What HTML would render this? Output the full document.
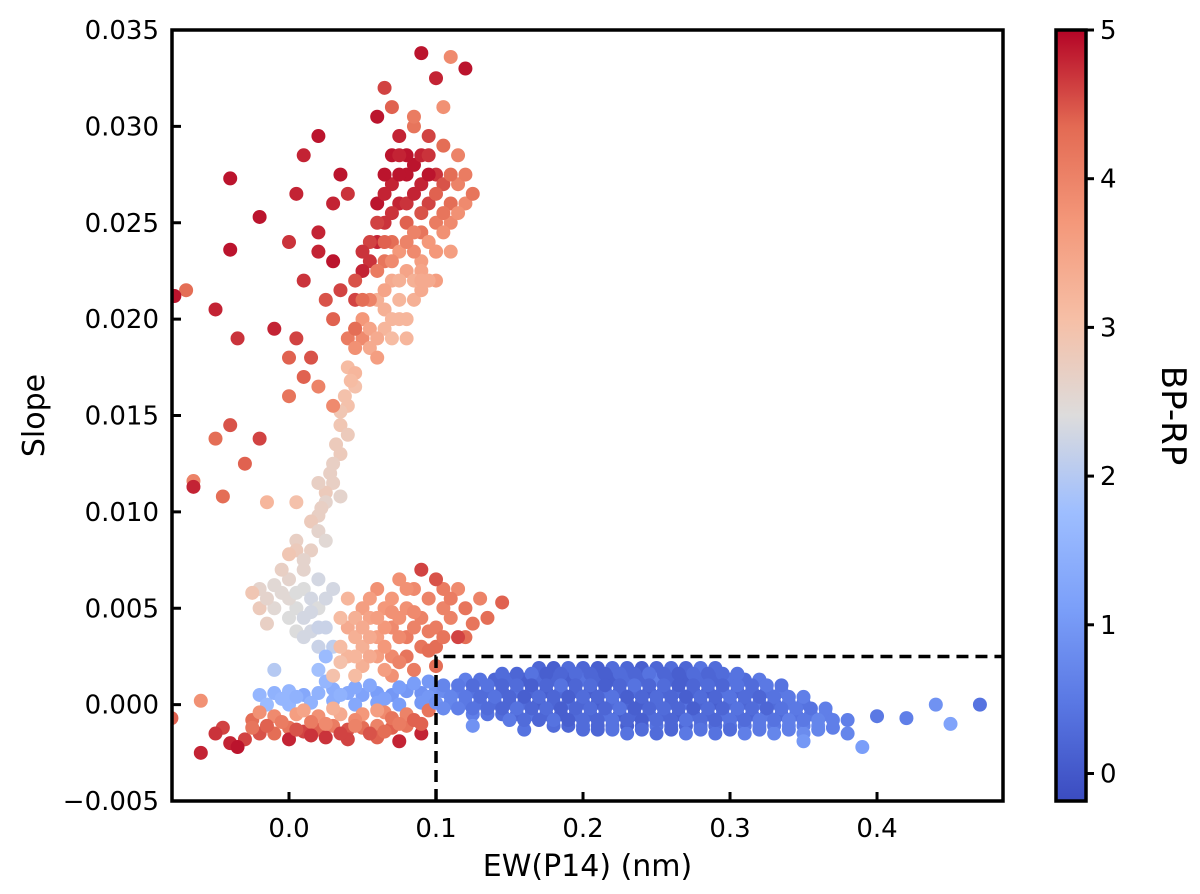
<!DOCTYPE html>
<html><head><meta charset="utf-8"><style>
body{margin:0;background:#fff;}
svg text{font-family:"DejaVu Sans","Liberation Sans",sans-serif;fill:#000;}
</style></head><body>
<svg id="chart" width="1200" height="889" viewBox="0 0 1200 889" xmlns="http://www.w3.org/2000/svg">
<defs>
<linearGradient id="cbg" x1="0" y1="1" x2="0" y2="0">
<stop offset="0" stop-color="#3b4cc0"/><stop offset="0.125" stop-color="#5977e3"/><stop offset="0.25" stop-color="#7b9ff9"/><stop offset="0.375" stop-color="#9ebeff"/><stop offset="0.5" stop-color="#dddcdc"/><stop offset="0.625" stop-color="#f6bfa6"/><stop offset="0.75" stop-color="#f4987a"/><stop offset="0.875" stop-color="#e36a53"/><stop offset="1" stop-color="#b40426"/>
</linearGradient>
<clipPath id="plotclip"><rect x="172" y="30" width="831" height="771"/></clipPath>
</defs>
<g id="points" clip-path="url(#plotclip)"></g>
<g id="axes"></g>
</svg>
<script>
const xTicks=[0.0,0.1,0.2,0.3,0.4];
const xTickLabels=["0.0","0.1","0.2","0.3","0.4"];
const yTicks=[-0.005,0,0.005,0.01,0.015,0.02,0.025,0.03,0.035];
const yTickLabels=["\u22120.005","0.000","0.005","0.010","0.015","0.020","0.025","0.030","0.035"];
const cTicks=[0,1,2,3,4,5];
const boxX=0.1, boxY=0.0025;
const lowerRed=[[-0.06,-0.0025,4.8],[-0.04,-0.002,4.8],[-0.03,-0.0018,4.6],[-0.02,-0.0015,4.5],[-0.01,-0.0015,4.3],[0.0,-0.0012,4.2],[0.01,-0.0014,4.6],[0.02,-0.0013,4.4],[0.03,-0.0011,4.1],[0.04,-0.0013,4.5],[0.05,-0.0012,4.3],[0.06,-0.0011,4.0],[0.07,-0.0012,4.4],[0.08,-0.0011,4.2],[0.09,-0.0015,4.8],[-0.035,-0.0022,4.9],[-0.025,-0.0008,4.3],[-0.01,-0.0006,3.9],[0.005,-0.0005,3.6],[0.02,-0.0006,3.8],[0.035,-0.0005,3.4],[0.05,-0.0005,3.7],[0.065,-0.0004,3.9],[0.08,-0.0005,4.0],[0.095,-0.0003,4.2],[-0.08,-0.0007,4.4],[-0.045,-0.0012,4.6],[0.0,-0.0018,4.8],[0.04,-0.0018,4.6],[0.06,-0.0017,4.4],[0.015,-0.0009,4.1],[0.045,-0.0008,3.9],[0.07,-0.0007,4.2],[-0.05,-0.0015,4.7],[0.085,-0.0008,4.4],[-0.025,-0.0012,4.2],[0.025,-0.0017,4.7],[0.075,-0.0019,4.8],[-0.06,0.0002,3.8],[-0.015,-0.0011,4.4],[-0.005,-0.0009,4.1],[0.005,-0.0013,4.5],[0.015,-0.0016,4.7],[0.035,-0.0015,4.6],[0.055,-0.0015,4.5],[0.065,-0.0014,4.3],[0.075,-0.001,4.1],[0.045,-0.0011,4.0],[0.025,-0.001,3.9],[0.01,-0.0003,3.5],[0.03,-0.0002,3.3],[0.06,-0.0003,3.6],[0.09,-0.001,4.4],[-0.02,-0.0004,3.8]];
const blueBand=[[-0.02,0.0005,1.6],[-0.01,0.0006,1.5],[0.0,0.0007,1.6],[0.01,0.0005,1.3],[0.02,0.0006,1.5],[0.03,0.0008,1.4],[0.04,0.0006,1.3],[0.05,0.0005,1.2],[0.06,0.0006,1.1],[0.07,0.0005,1.0],[0.08,0.0007,1.0],[0.09,0.0006,0.9],[0.1,0.0008,0.9],[-0.015,0.0,1.7],[0.0,0.0,1.6],[0.015,0.0001,1.5],[0.03,0.0002,1.4],[0.045,0.0,1.3],[0.06,0.0001,1.2],[0.075,0.0,1.1],[0.09,0.0001,1.0],[0.025,0.0012,1.6],[0.055,0.001,1.3],[0.085,0.0011,1.1],[0.035,0.0005,1.5],[0.065,0.0003,1.2],[0.095,0.0004,1.0],[-0.005,0.0003,1.6],[0.005,0.0004,1.5],[0.045,0.0009,1.3],[0.075,0.0009,1.1],[0.095,0.0012,1.0]];
const midGray=[[-0.02,0.006,2.6],[-0.01,0.0062,2.5],[0.0,0.0065,2.6],[0.01,0.006,2.4],[0.015,0.0055,2.3],[0.005,0.005,2.4],[-0.01,0.005,2.5],[-0.02,0.005,2.8],[0.0,0.0045,2.4],[0.01,0.0045,2.3],[0.02,0.005,2.4],[0.02,0.0065,2.3],[0.03,0.006,2.3],[0.025,0.004,2.2],[0.015,0.0038,2.3],[0.005,0.0038,2.4],[0.02,0.003,2.2],[0.03,0.003,2.1],[-0.015,0.0042,2.7],[0.0,0.0055,2.5],[0.01,0.007,2.6],[-0.005,0.007,2.7],[-0.01,0.0018,2.0],[0.02,0.0018,1.8],[0.025,0.0025,1.7],[-0.025,0.0058,2.9],[0.005,0.0085,2.7],[-0.005,0.0058,2.5],[0.005,0.0058,2.4],[0.015,0.0048,2.3],[0.025,0.0055,2.3],[-0.015,0.0055,2.6],[0.01,0.0035,2.3],[0.02,0.004,2.2]];
const salmon=[[0.04,0.004,3.4],[0.05,0.005,3.6],[0.06,0.006,3.8],[0.07,0.0055,3.7],[0.08,0.005,3.8],[0.09,0.0045,4.0],[0.1,0.004,4.1],[0.11,0.0045,4.0],[0.12,0.005,4.2],[0.05,0.003,3.3],[0.06,0.0035,3.6],[0.07,0.004,3.9],[0.08,0.0035,4.1],[0.09,0.003,4.2],[0.1,0.003,4.3],[0.04,0.0025,3.2],[0.05,0.002,3.3],[0.06,0.0025,3.6],[0.07,0.0025,3.9],[0.08,0.0025,4.2],[0.045,0.0035,3.3],[0.055,0.0045,3.5],[0.065,0.005,3.7],[0.075,0.0065,3.8],[0.085,0.006,3.9],[0.095,0.0055,4.0],[0.105,0.006,4.1],[0.115,0.006,3.9],[0.13,0.0055,4.0],[0.12,0.0035,4.3],[0.035,0.0045,3.1],[0.035,0.003,3.1],[0.04,0.0055,3.2],[0.09,0.007,4.6],[0.1,0.0065,4.5],[0.135,0.0045,4.3],[0.105,0.005,4.0],[0.145,0.0053,4.4],[0.075,0.0045,3.8],[0.085,0.004,4.0],[0.065,0.003,3.7],[0.03,0.0015,3.0],[0.07,0.0015,3.8],[0.1,0.002,4.3],[0.115,0.0035,4.6],[0.085,0.0018,4.1],[0.055,0.0035,3.4],[0.095,0.0038,4.1],[0.045,0.0045,3.3],[0.055,0.0055,3.6],[0.065,0.004,3.7],[0.075,0.0035,3.9],[0.085,0.0048,3.9],[0.095,0.0028,4.3],[0.105,0.0035,4.2],[0.045,0.0025,3.2],[0.055,0.0025,3.4],[0.075,0.0022,4.0],[0.065,0.0018,3.6],[0.035,0.0022,3.0],[0.045,0.0015,3.1],[0.11,0.0055,4.1],[0.125,0.0042,4.2],[0.08,0.006,3.8],[0.07,0.0048,3.8],[0.06,0.0045,3.6],[0.05,0.004,3.4]];
const stream=[[0.04,0.0175,3.1],[0.045,0.0165,3.0],[0.04,0.0155,3.0],[0.035,0.0145,2.9],[0.04,0.014,2.8],[0.035,0.013,2.8],[0.03,0.0125,2.7],[0.03,0.0115,2.7],[0.025,0.011,2.8],[0.02,0.0115,2.7],[0.025,0.0105,2.6],[0.02,0.0098,2.7],[0.015,0.0095,2.8],[0.02,0.009,2.6],[0.025,0.0085,2.5],[0.015,0.008,2.7],[0.005,0.008,2.8],[0.0,0.0078,2.9],[0.01,0.0075,2.6],[0.035,0.0108,2.6],[0.045,0.0172,3.2],[0.038,0.016,3.0],[0.032,0.0135,2.8],[0.028,0.012,2.7],[0.022,0.0102,2.7],[0.035,0.0152,2.9],[0.042,0.0168,3.1]];
const upper=[[0.07,0.027,4.8],[0.08,0.0275,4.9],[0.09,0.027,4.8],[0.1,0.0275,4.7],[0.085,0.028,4.9],[0.075,0.026,4.8],[0.065,0.025,4.7],[0.06,0.024,4.8],[0.095,0.026,4.6],[0.105,0.027,4.5],[0.11,0.026,4.3],[0.07,0.0285,4.9],[0.09,0.0285,4.8],[0.055,0.023,4.7],[0.05,0.0225,4.8],[0.045,0.021,4.6],[0.06,0.026,4.9],[0.08,0.026,4.7],[0.1,0.025,4.1],[0.11,0.025,3.9],[0.115,0.027,4.0],[0.1,0.0235,3.8],[0.09,0.0245,4.2],[0.08,0.025,4.4],[0.07,0.024,4.3],[0.065,0.023,4.2],[0.12,0.026,3.9],[0.105,0.029,4.3],[0.095,0.0295,4.6],[0.085,0.03,4.2],[0.115,0.0285,4.0],[0.04,0.019,4.1],[0.05,0.019,3.9],[0.045,0.0185,3.8],[0.06,0.021,3.3],[0.07,0.022,3.4],[0.08,0.0225,3.5],[0.09,0.023,3.6],[0.075,0.02,3.2],[0.085,0.021,3.3],[0.065,0.0195,3.2],[0.055,0.0185,3.4],[0.06,0.018,3.6],[0.07,0.019,3.1],[0.08,0.019,3.2],[0.09,0.0215,3.4],[0.1,0.022,3.6],[0.095,0.024,3.7],[0.05,0.02,3.7],[0.11,0.0235,3.6],[0.105,0.0245,3.8],[0.075,0.0235,3.7],[0.085,0.0235,3.9],[0.065,0.0215,3.5],[0.055,0.021,4.0],[0.115,0.0255,3.8],
[0.075,0.0275,4.9],[0.085,0.0265,4.8],[0.095,0.0275,4.9],[0.065,0.0265,4.8],[0.07,0.0255,4.7],[0.08,0.0285,4.9],[0.09,0.0255,4.5],[0.1,0.0265,4.4],[0.105,0.0255,4.2],[0.11,0.0275,4.3],[0.06,0.025,4.6],[0.055,0.024,4.6],[0.05,0.0235,4.7],[0.045,0.022,4.5],[0.05,0.021,4.3],[0.06,0.0225,4.1],[0.07,0.023,3.9],[0.08,0.024,4.0],[0.09,0.0225,3.5],[0.1,0.0235,3.7],[0.095,0.022,3.4],[0.085,0.022,3.3],[0.075,0.021,3.2],[0.065,0.0205,3.3],[0.055,0.0195,3.5],[0.045,0.0195,3.9],[0.06,0.019,3.4],[0.07,0.02,3.2],[0.08,0.02,3.2],[0.09,0.022,3.4],[0.075,0.022,3.3],[0.085,0.0245,4.0],[0.065,0.024,4.4],[0.12,0.0275,4.1],[0.075,0.0285,4.8],[0.065,0.0275,4.9],[0.095,0.0285,4.7]];
const scattered=[[0.09,0.0338,4.9],[0.11,0.0336,3.9],[0.12,0.033,4.9],[0.1,0.0325,4.8],[0.065,0.032,4.6],[0.07,0.031,4.4],[0.06,0.0305,4.9],[0.075,0.0295,4.8],[0.02,0.0295,4.9],[0.01,0.0285,4.8],[0.035,0.0275,4.9],[0.04,0.0265,4.7],[0.03,0.026,4.8],[-0.04,0.0273,4.9],[-0.02,0.0253,4.9],[0.005,0.0265,4.8],[0.0,0.024,4.7],[0.02,0.0245,4.8],[-0.04,0.0236,4.9],[-0.05,0.0205,4.8],[-0.07,0.0215,4.3],[-0.078,0.0212,4.9],[0.01,0.022,4.7],[0.025,0.021,4.5],[0.03,0.02,4.4],[-0.01,0.0195,4.8],[0.005,0.019,4.6],[0.015,0.018,4.5],[0.0,0.018,4.4],[-0.035,0.019,4.7],[0.02,0.0235,4.8],[0.03,0.023,4.9],[0.125,0.0265,4.2],[0.105,0.031,3.8],[0.085,0.0305,4.1],[-0.04,0.0145,4.5],[-0.05,0.0138,4.3],[-0.02,0.0138,4.6],[-0.03,0.0125,4.4],[-0.065,0.0116,4.0],[-0.065,0.0113,4.8],[-0.045,0.0108,4.3],[0.0,0.016,4.2],[0.01,0.017,4.4],[0.02,0.0165,4.0],[0.03,0.0155,3.9],[-0.015,0.0105,3.2],[0.005,0.0105,3.0],[0.045,0.0195,4.3],[0.035,0.0215,4.6]];
const blueBlob=[
[0.17,0.0019,0.2],[0.18,0.0019,0.1],[0.19,0.0019,0.3],[0.2,0.0019,0.2],[0.21,0.0019,0.1],[0.22,0.0019,0.3],[0.23,0.0019,0.2],[0.24,0.0019,0.1],[0.25,0.0019,0.2],[0.26,0.0019,0.3],[0.27,0.0019,0.2],[0.28,0.0019,0.4],[0.29,0.0019,0.3],
[0.12,0.0013,0.6],[0.13,0.0013,0.4],[0.14,0.0013,0.2],[0.15,0.0013,0.3],[0.16,0.0013,0.1],[0.17,0.0013,0.3],[0.18,0.0013,0.2],[0.19,0.0013,0.1],[0.2,0.0013,0.4],[0.21,0.0013,0.2],[0.22,0.0013,0.1],[0.23,0.0013,0.3],[0.24,0.0013,0.2],[0.25,0.0013,0.6],[0.26,0.0013,0.2],[0.27,0.0013,0.1],[0.28,0.0013,0.3],[0.29,0.0013,0.2],[0.3,0.0013,0.4],[0.31,0.0013,0.3],[0.32,0.0013,0.5],
[0.105,0.0007,0.8],[0.115,0.0007,0.6],[0.125,0.0007,0.4],[0.135,0.0007,0.3],[0.145,0.0007,0.2],[0.155,0.0007,0.4],[0.165,0.0007,0.2],[0.175,0.0007,0.1],[0.185,0.0007,0.3],[0.195,0.0007,0.2],[0.205,0.0007,0.1],[0.215,0.0007,0.4],[0.225,0.0007,0.2],[0.235,0.0007,0.3],[0.245,0.0007,0.1],[0.255,0.0007,0.2],[0.265,0.0007,0.3],[0.275,0.0007,0.2],[0.285,0.0007,0.1],[0.295,0.0007,0.4],[0.305,0.0007,0.2],[0.315,0.0007,0.3],[0.325,0.0007,0.4],[0.335,0.0007,0.5],
[0.1,0.0001,0.9],[0.11,0.0001,0.7],[0.12,0.0001,0.5],[0.13,0.0001,0.4],[0.14,0.0001,0.3],[0.15,0.0001,0.2],[0.16,0.0001,0.3],[0.17,0.0001,0.1],[0.18,0.0001,0.2],[0.19,0.0001,0.4],[0.2,0.0001,0.2],[0.21,0.0001,0.1],[0.22,0.0001,0.3],[0.23,0.0001,0.2],[0.24,0.0001,0.1],[0.25,0.0001,0.3],[0.26,0.0001,0.2],[0.27,0.0001,0.4],[0.28,0.0001,0.2],[0.29,0.0001,0.1],[0.3,0.0001,0.3],[0.31,0.0001,0.2],[0.32,0.0001,0.4],[0.33,0.0001,0.3],[0.34,0.0001,0.5],[0.35,0.0001,0.4],
[0.125,-0.0005,0.6],[0.135,-0.0005,0.4],[0.145,-0.0005,0.3],[0.155,-0.0005,0.2],[0.165,-0.0005,0.4],[0.175,-0.0005,0.2],[0.185,-0.0005,0.1],[0.195,-0.0005,0.3],[0.205,-0.0005,0.2],[0.215,-0.0005,0.4],[0.225,-0.0005,0.1],[0.235,-0.0005,0.2],[0.245,-0.0005,0.3],[0.255,-0.0005,0.2],[0.265,-0.0005,0.1],[0.275,-0.0005,0.3],[0.285,-0.0005,0.2],[0.295,-0.0005,0.4],[0.305,-0.0005,0.3],[0.315,-0.0005,0.2],[0.325,-0.0005,0.5],[0.335,-0.0005,0.3],[0.345,-0.0005,0.4],[0.355,-0.0005,0.5],[0.365,-0.0005,0.6],
[0.18,-0.0011,0.3],[0.19,-0.0011,0.2],[0.2,-0.0011,0.4],[0.21,-0.0011,0.2],[0.22,-0.0011,0.3],[0.23,-0.0011,0.1],[0.24,-0.0011,0.2],[0.25,-0.0011,0.4],[0.26,-0.0011,0.3],[0.27,-0.0011,0.2],[0.28,-0.0011,0.4],[0.29,-0.0011,0.3],[0.3,-0.0011,0.5],[0.31,-0.0011,0.4],[0.32,-0.0011,0.6],[0.33,-0.0011,0.5],[0.34,-0.0011,0.7],[0.35,-0.0011,0.6],[0.36,-0.0011,0.8],
[0.23,-0.0015,0.4],[0.25,-0.0015,0.3],[0.27,-0.0015,0.5],[0.29,-0.0015,0.4],[0.31,-0.0015,0.6],[0.33,-0.0015,0.7],[0.35,-0.0015,0.8],
[0.38,-0.0008,0.6],[0.4,-0.0006,0.5],[0.42,-0.0007,0.6],[0.44,0.0,0.9],[0.45,-0.001,1.2],[0.47,0.0,0.4],[0.39,-0.0022,1.1],[0.16,-0.0013,0.4],[0.125,-0.0011,0.9],[0.35,-0.0019,1.0],[0.38,-0.0015,0.7],[0.37,-0.0012,0.6]];
const blueFill=[
[0.145,0.0016,0.3],[0.155,0.0016,0.2],[0.165,0.0016,0.4],[0.175,0.0016,0.1],[0.185,0.0016,0.2],[0.195,0.0016,0.3],[0.205,0.0016,0.2],[0.215,0.0016,0.1],[0.225,0.0016,0.3],[0.235,0.0016,0.2],[0.245,0.0016,0.4],[0.255,0.0016,0.2],[0.265,0.0016,0.1],[0.275,0.0016,0.3],[0.285,0.0016,0.2],[0.295,0.0016,0.3],[0.305,0.0016,0.4],
[0.105,0.001,0.7],[0.115,0.001,0.5],[0.125,0.001,0.3],[0.135,0.001,0.4],[0.145,0.001,0.2],[0.155,0.001,0.3],[0.165,0.001,0.1],[0.175,0.001,0.2],[0.185,0.001,0.4],[0.195,0.001,0.2],[0.205,0.001,0.3],[0.215,0.001,0.1],[0.225,0.001,0.2],[0.235,0.001,0.4],[0.245,0.001,0.2],[0.255,0.001,0.3],[0.265,0.001,0.1],[0.275,0.001,0.2],[0.285,0.001,0.3],[0.295,0.001,0.2],[0.305,0.001,0.4],[0.315,0.001,0.3],[0.325,0.001,0.5],[0.335,0.001,0.4],
[0.11,0.0004,0.7],[0.12,0.0004,0.5],[0.13,0.0004,0.3],[0.14,0.0004,0.4],[0.15,0.0004,0.2],[0.16,0.0004,0.1],[0.17,0.0004,0.3],[0.18,0.0004,0.2],[0.19,0.0004,0.1],[0.2,0.0004,0.3],[0.21,0.0004,0.2],[0.22,0.0004,0.4],[0.23,0.0004,0.1],[0.24,0.0004,0.2],[0.25,0.0004,0.3],[0.26,0.0004,0.2],[0.27,0.0004,0.1],[0.28,0.0004,0.3],[0.29,0.0004,0.2],[0.3,0.0004,0.4],[0.31,0.0004,0.3],[0.32,0.0004,0.2],[0.33,0.0004,0.4],[0.34,0.0004,0.5],[0.35,0.0004,0.6],
[0.105,-0.0002,0.8],[0.115,-0.0002,0.6],[0.125,-0.0002,0.4],[0.135,-0.0002,0.3],[0.145,-0.0002,0.2],[0.155,-0.0002,0.4],[0.165,-0.0002,0.2],[0.175,-0.0002,0.3],[0.185,-0.0002,0.1],[0.195,-0.0002,0.2],[0.205,-0.0002,0.3],[0.215,-0.0002,0.2],[0.225,-0.0002,0.4],[0.235,-0.0002,0.1],[0.245,-0.0002,0.2],[0.255,-0.0002,0.3],[0.265,-0.0002,0.2],[0.275,-0.0002,0.1],[0.285,-0.0002,0.3],[0.295,-0.0002,0.2],[0.305,-0.0002,0.4],[0.315,-0.0002,0.3],[0.325,-0.0002,0.2],[0.335,-0.0002,0.4],[0.345,-0.0002,0.5],[0.355,-0.0002,0.4],[0.365,-0.0002,0.6],
[0.15,-0.0008,0.5],[0.16,-0.0008,0.3],[0.17,-0.0008,0.2],[0.18,-0.0008,0.4],[0.19,-0.0008,0.1],[0.2,-0.0008,0.3],[0.21,-0.0008,0.2],[0.22,-0.0008,0.4],[0.23,-0.0008,0.2],[0.24,-0.0008,0.1],[0.25,-0.0008,0.3],[0.26,-0.0008,0.2],[0.27,-0.0008,0.4],[0.28,-0.0008,0.3],[0.29,-0.0008,0.2],[0.3,-0.0008,0.4],[0.31,-0.0008,0.3],[0.32,-0.0008,0.5],[0.33,-0.0008,0.4],[0.34,-0.0008,0.6],[0.35,-0.0008,0.5],[0.36,-0.0008,0.7],[0.37,-0.0008,0.6],
[0.2,-0.0013,0.3],[0.21,-0.0013,0.2],[0.22,-0.0013,0.4],[0.24,-0.0013,0.3],[0.26,-0.0013,0.2],[0.28,-0.0013,0.4],[0.3,-0.0013,0.3],[0.32,-0.0013,0.5],[0.34,-0.0013,0.6],[0.36,-0.0013,0.7]];
const X0=-0.0796,X1=0.4857,Y0=-0.005,Y1=0.035,C0=-0.185,C1=5;
const L=172,R=1003,T=30,B=801;
const sx=v=>L+(v-X0)/(X1-X0)*(R-L);
const sy=v=>B-(v-Y0)/(Y1-Y0)*(B-T);
const cy=v=>B-(v-C0)/(C1-C0)*(B-T);
const stops=[[0,[59,76,192]],[0.125,[89,119,227]],[0.25,[123,159,249]],[0.375,[158,190,255]],[0.5,[221,220,220]],[0.625,[246,191,166]],[0.75,[244,152,122]],[0.875,[227,106,83]],[1,[180,4,38]]];
function cmap(c){let t=Math.max(0,Math.min(1,(c-C0)/(C1-C0)));for(let i=1;i<stops.length;i++){if(t<=stops[i][0]){const a=stops[i-1],b=stops[i];const f=(t-a[0])/(b[0]-a[0]);return 'rgb('+a[1].map((v,k)=>Math.round(v+(b[1][k]-v)*f)).join(',')+')';}}return 'rgb(180,4,38)';}
const NS='http://www.w3.org/2000/svg';
function mk(tag,attrs,parent){const e=document.createElementNS(NS,tag);for(const k in attrs)e.setAttribute(k,attrs[k]);parent.appendChild(e);return e;}
const pg=document.getElementById('points');
[blueBand,midGray,stream,lowerRed,salmon,upper,scattered,blueBlob,blueFill].forEach(arr=>{arr.forEach(p=>{const c=mk('circle',{cx:sx(p[0]),cy:sy(p[1]),r:7,fill:cmap(p[2])},pg);

});});
const ax=document.getElementById('axes');
const frame=mk('rect',{x:L,y:T,width:R-L,height:B-T,fill:'none',stroke:'#000','stroke-width':3.5},ax);


const db=mk('path',{d:`M${sx(boxX)},${B} L${sx(boxX)},${sy(boxY)} L${R},${sy(boxY)}`,fill:'none',stroke:'#000','stroke-width':3.5,'stroke-dasharray':'12,7'},ax);


xTicks.forEach((v,i)=>{const x=sx(v);mk('line',{x1:x,y1:B,x2:x,y2:B-9,stroke:'#000','stroke-width':3},ax);
const t=mk('text',{x:x,y:B+36,'text-anchor':'middle','font-size':26},ax);t.textContent=xTickLabels[i];

});
yTicks.forEach((v,i)=>{const y=sy(v);mk('line',{x1:L,y1:y,x2:L+9,y2:y,stroke:'#000','stroke-width':3},ax);
const t=mk('text',{x:L-13,y:y+9,'text-anchor':'end','font-size':26},ax);t.textContent=yTickLabels[i];

});
const xt=mk('text',{x:(L+R)/2,y:876,'text-anchor':'middle','font-size':30},ax);xt.textContent='EW(P14) (nm)';


const yt=mk('text',{x:44,y:(T+B)/2,'text-anchor':'middle','font-size':30,transform:`rotate(-90 44 ${(T+B)/2})`},ax);yt.textContent='Slope';


const cb=mk('rect',{x:1056,y:T,width:30,height:B-T,fill:'url(#cbg)',stroke:'#000','stroke-width':3.5},ax);


cTicks.forEach(v=>{const y=cy(v);mk('line',{x1:1086,y1:y,x2:1094,y2:y,stroke:'#000','stroke-width':3},ax);
const t=mk('text',{x:1100,y:y+9,'font-size':26},ax);t.textContent=String(v);

});
const ct=mk('text',{x:1162,y:(T+B)/2,'text-anchor':'middle','font-size':34,transform:`rotate(90 1162 ${(T+B)/2})`},ax);ct.textContent='BP-RP';


</script>
</body></html>
